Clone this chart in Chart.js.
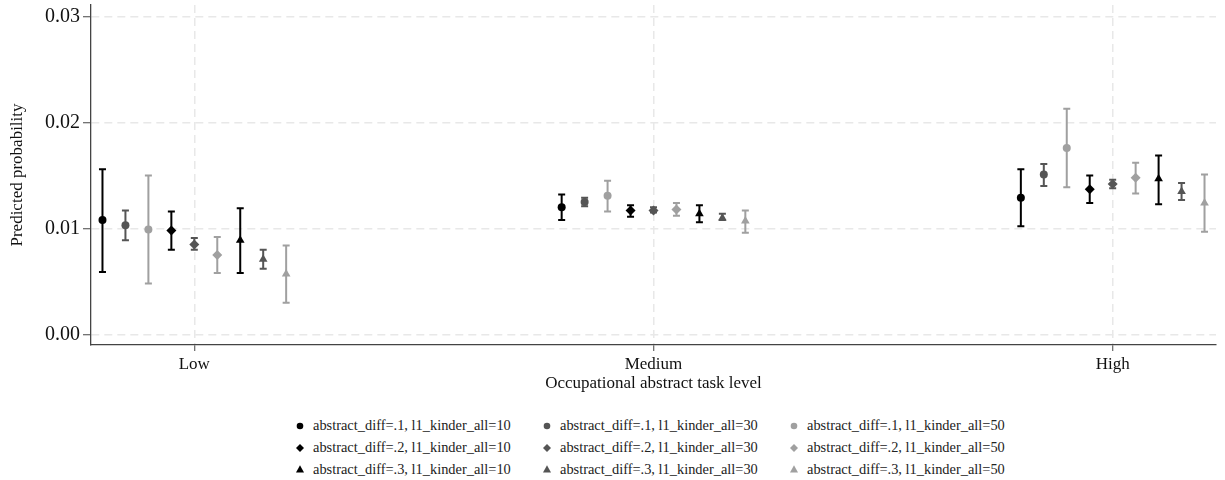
<!DOCTYPE html>
<html>
<head>
<meta charset="utf-8">
<script src="https://cdn.jsdelivr.net/npm/chart.js@4/dist/chart.umd.min.js"></script>
<style>
  body { margin: 0; background: #fff; font-family: "Liberation Serif", "Times New Roman", serif; }
  #wrap { position: relative; width: 1225px; height: 480px; }
  #box { position: absolute; left: 0; top: 0; width: 1225px; height: 400px; }
  #legend { position: absolute; left: 294px; top: 415px; display: grid;
    grid-template-columns: 247px 247px 230px; grid-auto-rows: 21.7px; font-size: 14.4px; color: #222; }
  .item { display: flex; align-items: center; white-space: nowrap; }
  .item svg { width: 12px; height: 12px; margin-right: 7px; flex: none; }
</style>
</head>
<body>
<div id="wrap">
  <div id="box"><canvas id="plot"></canvas></div>
  <div id="legend"></div>
</div>
<script>
const categories = ['Low', 'Medium', 'High'];
const yTicks = [0, 0.01, 0.02, 0.03];

const seriesLabels = [
  'abstract_diff=.1, l1_kinder_all=10', 'abstract_diff=.1, l1_kinder_all=30', 'abstract_diff=.1, l1_kinder_all=50',
  'abstract_diff=.2, l1_kinder_all=10', 'abstract_diff=.2, l1_kinder_all=30', 'abstract_diff=.2, l1_kinder_all=50',
  'abstract_diff=.3, l1_kinder_all=10', 'abstract_diff=.3, l1_kinder_all=30', 'abstract_diff=.3, l1_kinder_all=50'
];

// one row per series: Low, Medium, High
const estimates = [
  [0.0108, 0.0120, 0.0129],
  [0.0103, 0.0125, 0.0151],
  [0.0099, 0.0131, 0.0176],
  [0.0098, 0.0117, 0.0137],
  [0.0085, 0.0117, 0.0142],
  [0.0075, 0.0118, 0.0148],
  [0.0089, 0.0114, 0.0147],
  [0.0071, 0.0110, 0.0135],
  [0.0057, 0.0107, 0.0124]
];
const ciLower = [
  [0.0059, 0.0108, 0.0102],
  [0.0089, 0.0121, 0.0140],
  [0.0048, 0.0116, 0.0139],
  [0.0080, 0.0111, 0.0124],
  [0.0080, 0.0115, 0.0138],
  [0.0058, 0.0112, 0.0133],
  [0.0058, 0.0106, 0.0123],
  [0.0062, 0.0108, 0.0127],
  [0.0030, 0.0096, 0.0097]
];
const ciUpper = [
  [0.0156, 0.0132, 0.0156],
  [0.0117, 0.0129, 0.0161],
  [0.0150, 0.0145, 0.0213],
  [0.0116, 0.0122, 0.0150],
  [0.0091, 0.0120, 0.0146],
  [0.0092, 0.0124, 0.0162],
  [0.0119, 0.0122, 0.0169],
  [0.0080, 0.0114, 0.0143],
  [0.0084, 0.0117, 0.0151]
];

const kinderColors = ['#000000', '#555555', '#a0a0a0'];
const diffShapes = ['circle', 'rectRot', 'triangle'];
const shapeRadius = { circle: 4, rectRot: 5, triangle: 5 };
const FONT = '"Liberation Serif", "Times New Roman", serif';

const datasets = seriesLabels.map((label, i) => {
  const color = kinderColors[i % 3];
  const shape = diffShapes[Math.floor(i / 3)];
  const offset = (i - 4) * 0.05;
  return {
    label: label,
    data: categories.map((c, j) => ({ x: j + 1 + offset, y: estimates[i][j], lo: ciLower[i][j], hi: ciUpper[i][j] })),
    pointStyle: shape,
    pointRadius: shapeRadius[shape],
    backgroundColor: color,
    borderColor: color,
    borderWidth: 0,
    showLine: false
  };
});

const errorBars = {
  id: 'errorBars',
  beforeDatasetsDraw(chart) {
    const { ctx, scales: { x, y } } = chart;
    chart.data.datasets.forEach(ds => {
      ctx.save();
      ctx.strokeStyle = ds.borderColor;
      ctx.lineWidth = 2;
      ds.data.forEach(pt => {
        const px = x.getPixelForValue(pt.x);
        const lo = y.getPixelForValue(pt.lo);
        const hi = y.getPixelForValue(pt.hi);
        ctx.beginPath();
        ctx.moveTo(px, lo); ctx.lineTo(px, hi);
        ctx.moveTo(px - 3.5, lo); ctx.lineTo(px + 3.5, lo);
        ctx.moveTo(px - 3.5, hi); ctx.lineTo(px + 3.5, hi);
        ctx.stroke();
      });
      ctx.restore();
    });
  }
};

new Chart(document.getElementById('plot'), {
  type: 'scatter',
  data: { datasets: datasets },
  plugins: [errorBars],
  options: {
    responsive: true,
    maintainAspectRatio: false,
    animation: false,
    layout: { padding: { top: 5, right: 9, left: 0, bottom: 0 } },
    plugins: { legend: { display: false }, tooltip: { enabled: false } },
    scales: {
      x: {
        type: 'linear',
        min: 0.775,
        max: 3.225,
        afterBuildTicks: s => { s.ticks = categories.map((c, j) => ({ value: j + 1 })); },
        afterFit: s => { s.height = 55; s.paddingLeft = 0; s.paddingRight = 0; },
        ticks: {
          callback: v => categories[Math.round(v) - 1],
          font: { family: FONT, size: 17 },
          color: '#111',
          padding: 3,
          maxRotation: 0
        },
        grid: { color: '#e8e8e8', lineWidth: 1.5, tickColor: '#444', tickLength: 6, tickWidth: 1 },
        border: { color: '#444', width: 1.3, dash: [8, 5] },
        title: {
          display: true,
          text: 'Occupational abstract task level',
          font: { family: FONT, size: 17 },
          color: '#111',
          padding: { top: 0, bottom: 6 }
        }
      },
      y: {
        min: -0.001,
        max: 0.0311,
        afterBuildTicks: s => { s.ticks = yTicks.map(v => ({ value: v })); },
        afterFit: s => { s.width = 91; s.paddingTop = 0; s.paddingBottom = 0; },
        ticks: {
          callback: v => v.toFixed(2),
          font: { family: FONT, size: 20 },
          color: '#111',
          padding: 3
        },
        grid: { color: '#e8e8e8', lineWidth: 1.5, tickColor: '#444', tickLength: 8, tickWidth: 1 },
        border: { color: '#444', width: 1.3, dash: [8, 5] },
        title: {
          display: true,
          text: 'Predicted probability',
          font: { family: FONT, size: 17 },
          color: '#111',
          padding: { top: 7, bottom: 0 }
        }
      }
    }
  }
});

// html legend, 3 columns, built from the same series
const shapeSvg = {
  circle: c => `<circle cx="6" cy="6" r="3.3" fill="${c}"/>`,
  rectRot: c => `<polygon points="6,2 10,6 6,10 2,6" fill="${c}"/>`,
  triangle: c => `<polygon points="6,2.2 10,9.5 2,9.5" fill="${c}"/>`
};
const legendEl = document.getElementById('legend');
datasets.forEach(ds => {
  const item = document.createElement('div');
  item.className = 'item';
  item.innerHTML = `<svg viewBox="0 0 12 12">${shapeSvg[ds.pointStyle](ds.backgroundColor)}</svg><span>${ds.label}</span>`;
  legendEl.appendChild(item);
});
</script>
</body>
</html>
